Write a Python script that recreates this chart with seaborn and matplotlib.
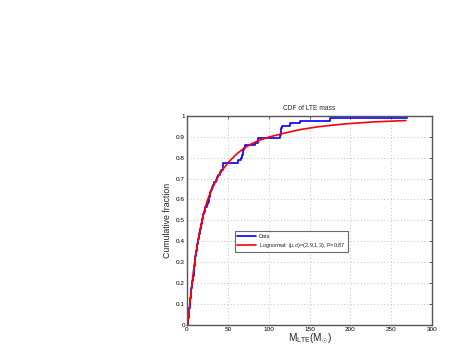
import numpy as np
import pandas as pd
import matplotlib
matplotlib.use("Agg")
import matplotlib.pyplot as plt
import seaborn as sns

# LTE masses (M_sun) of the sample
lte_mass = [0.96, 1.37, 1.74, 2.06, 2.37, 2.68, 2.98, 3.28, 3.58, 3.88,
            4.19, 4.5, 4.81, 5.11, 5.43, 5.75, 6.08, 6.42, 7.3, 7.7,
            8.0, 8.3, 8.6, 8.9, 9.2, 9.5, 9.8, 10.2, 10.7, 11.1,
            11.6, 12.1, 12.6, 13.1, 13.6, 14.1, 14.7, 15.3, 15.9, 16.5,
            17.2, 17.8, 18.5, 19.2, 20.0, 20.8, 21.6, 22.5, 24.8, 25.6,
            26.3, 26.9, 27.5, 28.5, 29.7, 30.9, 32.2, 33.6, 35.1, 36.7,
            38.4, 40.2, 42.1, 43.5, 44.5, 44.6, 62.5, 66.0, 67.0, 68.0,
            69.0, 70.0, 71.0, 83.0, 87.0, 87.0, 114.0, 114.5, 115.0, 115.5,
            116.0, 126.0, 138.0, 175.0, 270.0]

# lognormal fit curve
fit_x = [0, 1, 2, 3, 5, 7.5, 10, 15, 20, 25, 30, 40, 50, 60, 70, 80,
         90, 100, 120, 140, 160, 180, 200, 230, 268]
fit_y = [0, 0.013, 0.045, 0.083, 0.160, 0.248, 0.323, 0.441, 0.529, 0.597,
         0.648, 0.724, 0.775, 0.815, 0.846, 0.868, 0.885, 0.898, 0.918, 0.935,
         0.947, 0.956, 0.963, 0.971, 0.977]

x_ticks = [0, 50, 100, 150, 200, 250, 300]
y_ticks = [0, 0.1, 0.2, 0.3, 0.4, 0.5, 0.6, 0.7, 0.8, 0.9, 1.0]
y_labels = ["0", "0.1", "0.2", "0.3", "0.4", "0.5", "0.6", "0.7", "0.8", "0.9", "1"]

sns.set_style("white")
plt.rcParams["font.family"] = ["Liberation Sans", "DejaVu Sans"]
plt.rcParams["mathtext.fontset"] = "custom"
plt.rcParams["mathtext.rm"] = "Liberation Sans"
plt.rcParams["mathtext.it"] = "Liberation Sans:italic"

fig = plt.figure(figsize=(4.63, 3.54), dpi=100)
ax = fig.add_axes([0.404, 0.082, 0.529, 0.591])

sns.ecdfplot(x=lte_mass, ax=ax, color="#0000ff", linewidth=1.2, label="Data")
sns.lineplot(x=fit_x, y=fit_y, ax=ax, color="#ff0000", linewidth=1.2,
             label=r"Lognormal: ($\mu$,$\sigma$)=(2.9,1.3), P=0.87")

ax.set_xlim(0, 300)
ax.set_ylim(0, 1)
ax.set_xticks(x_ticks)
ax.set_yticks(y_ticks)
ax.set_yticklabels(y_labels)
ax.grid(True, linestyle=(0, (1, 3)), color="#b0b0b0", linewidth=0.6)
ax.tick_params(direction="in", length=2.5, width=0.6, labelsize=4.6, pad=1.5,
               top=True, right=True, colors="#444444", labelcolor="black")
for s in ax.spines.values():
    s.set_color("#555555")
    s.set_linewidth(1.0)

ax.set_title("CDF of LTE mass", fontsize=4.8, pad=4)
ax.set_ylabel("Cumulative fraction", fontsize=6.3, labelpad=3)
ax.set_xlabel(r"M$_{\mathrm{LTE}}$(M$_{\odot}$)", fontsize=7.2, labelpad=0)

leg = ax.legend(loc="upper left", bbox_to_anchor=(0.196, 0.447), fontsize=4.0,
                frameon=True, fancybox=False, handlelength=3.4, borderpad=0.4,
                labelspacing=0.4, handletextpad=0.5, borderaxespad=0)
leg.get_frame().set_edgecolor("#444444")
leg.get_frame().set_linewidth(0.8)

fig.savefig("out.png", dpi=100)
